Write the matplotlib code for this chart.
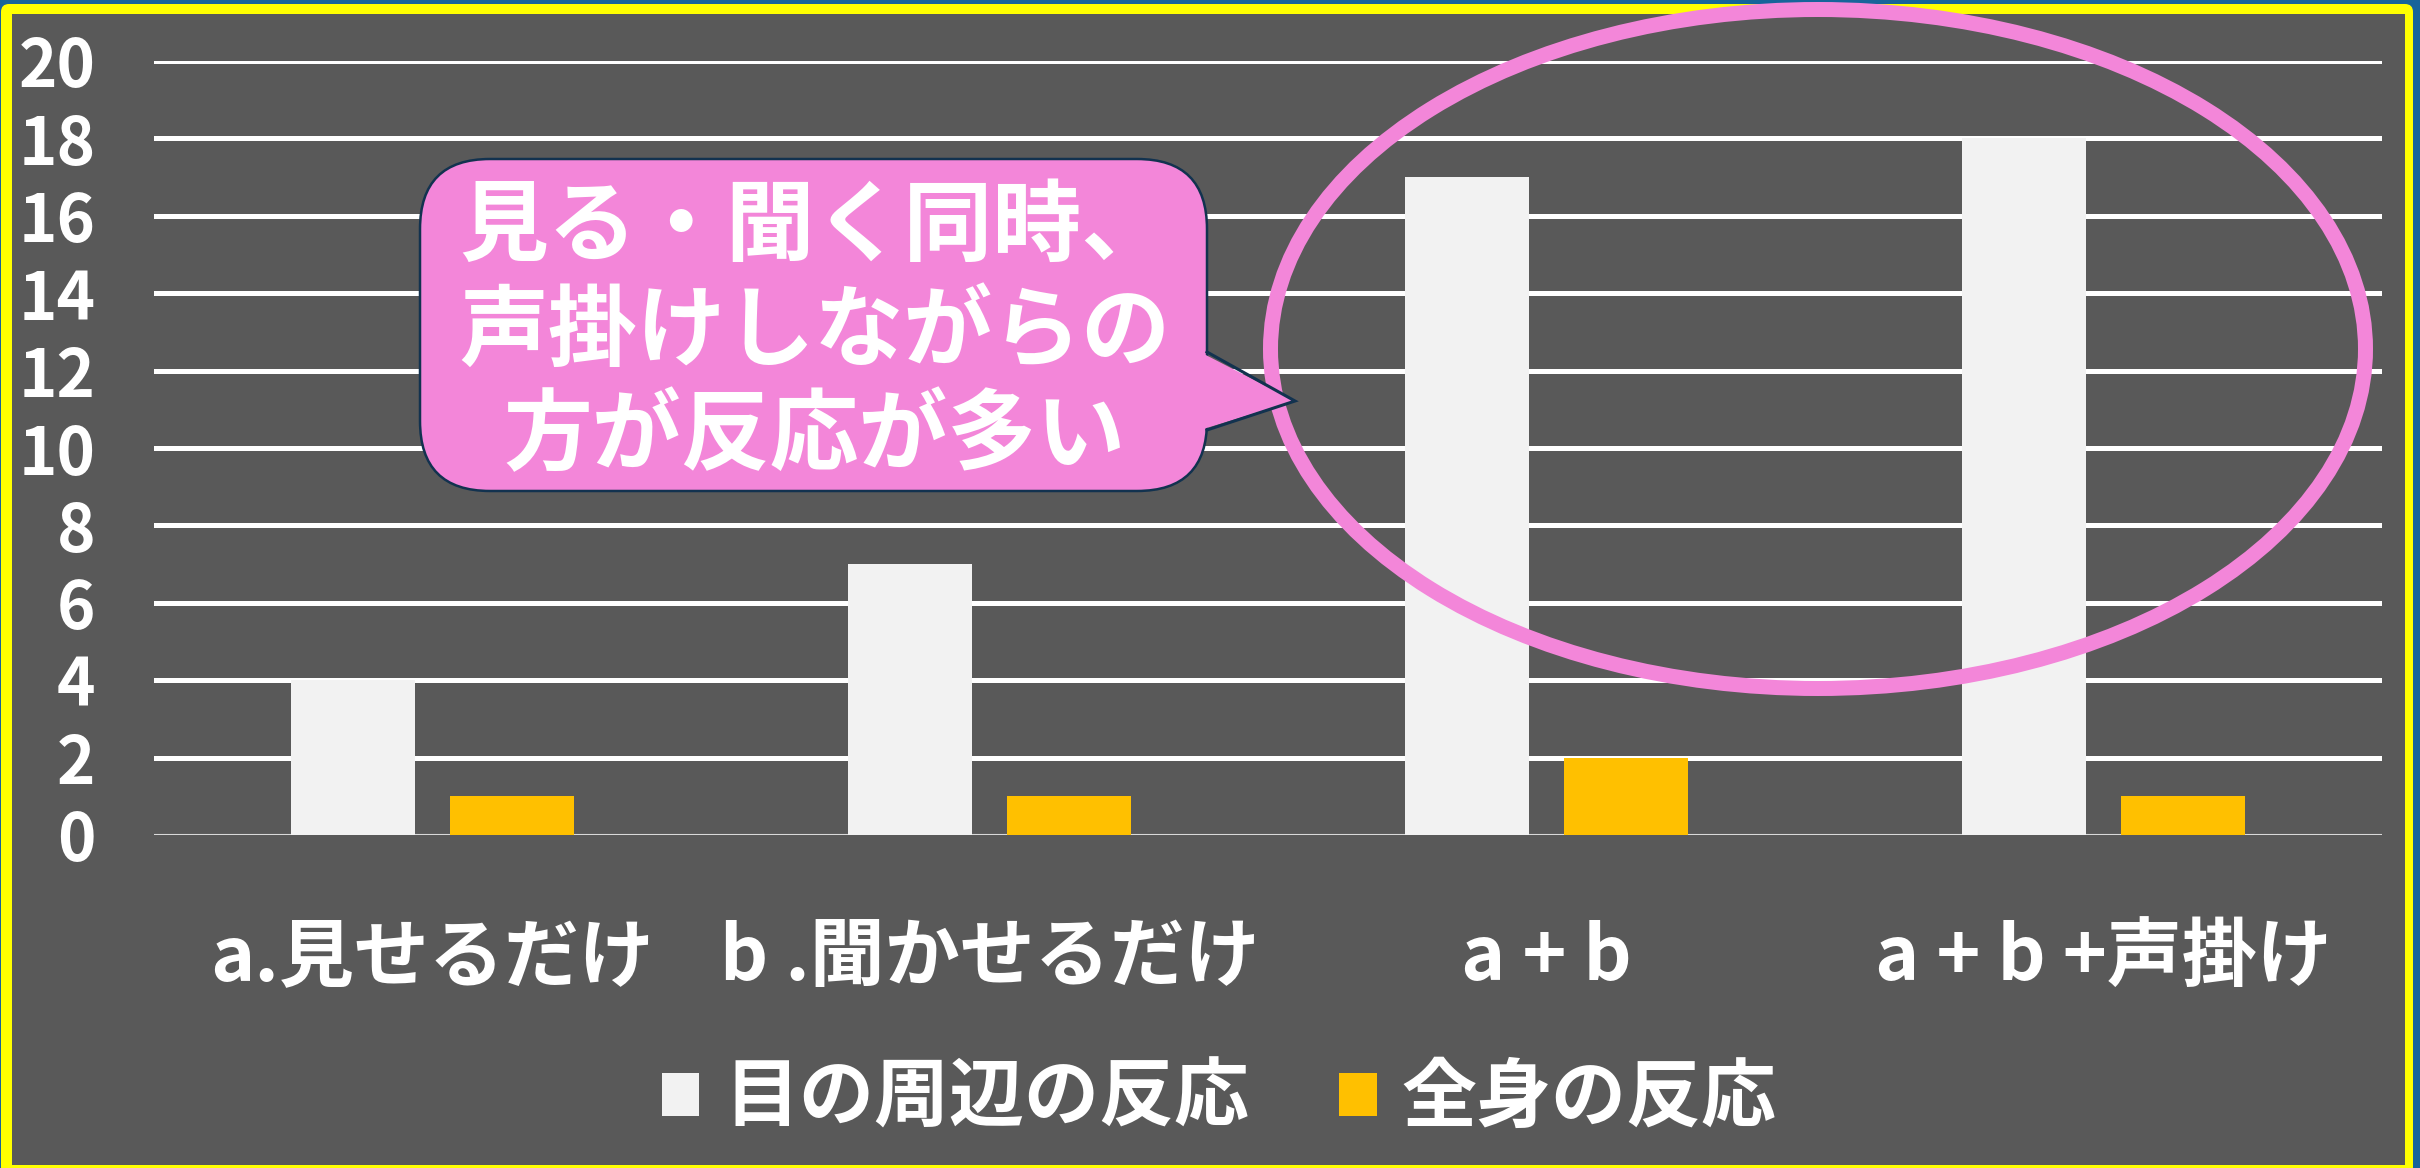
import matplotlib.pyplot as plt
import numpy as np
from matplotlib.patches import FancyBboxPatch, Ellipse, Polygon, Rectangle

plt.rcParams['font.family'] = ['Noto Sans CJK JP', 'DejaVu Sans']

categories = ['a.見せるだけ', 'b .聞かせるだけ', 'a + b', 'a + b +声掛け']
eye = [4, 7, 17, 18]
body = [1, 1, 2, 1]
series_names = ['目の周辺の反応', '全身の反応']
callout_lines = ['見る・聞く同時、', '声掛けしながらの', '方が反応が多い']

W, H = 2420, 1168
PINK = '#F386D9'
fig = plt.figure(figsize=(W / 100, H / 100), dpi=100, facecolor='#17649A')

# background frame (pixel coords, y downwards)
bg = fig.add_axes([0, 0, 1, 1])
bg.set_xlim(0, W)
bg.set_ylim(H, 0)
bg.axis('off')
bg.add_patch(FancyBboxPatch((1, 4), 2412, 1200, boxstyle='round,pad=0,rounding_size=8',
                            fc='#FFFF00', ec='none'))
bg.add_patch(Rectangle((12, 14), 2393, 1151, fc='#595959', ec='none'))

# chart
ax = fig.add_axes([154 / W, (H - 835) / H, 2228 / W, 774 / H])
ax.set_facecolor('none')
x = np.arange(len(categories))
ax.bar(x - 0.143, eye, 0.222, color='#F2F2F2', label=series_names[0], zorder=2)
ax.bar(x + 0.143, body, 0.222, color='#FFC000', label=series_names[1], zorder=2)
ax.set_xlim(-0.5, len(categories) - 0.5)
ax.set_ylim(0, 20)
ax.set_yticks(range(0, 21, 2))
ax.set_xticks(x)
ax.set_xticklabels(categories)
ax.set_axisbelow(True)
ax.yaxis.grid(True, color='white', lw=3.6)
ax.get_ygridlines()[0].set_visible(False)
ax.axhline(0, color='#D9D9D9', lw=1.5, zorder=1)
for s in ax.spines.values():
    s.set_visible(False)
ax.tick_params(axis='y', length=0, pad=42, labelsize=47, labelcolor='white')
ax.tick_params(axis='x', length=0, pad=61, labelsize=54, labelcolor='white')
for lbl in ax.get_xticklabels() + ax.get_yticklabels():
    lbl.set_fontweight('bold')

leg = fig.legend(loc='center', bbox_to_anchor=(1219 / W, 69 / H), ncol=2, frameon=False,
                 prop={'size': 54, 'weight': 'bold'}, labelcolor='white',
                 handlelength=0.5, handleheight=0.5, handletextpad=0.33, columnspacing=1.2)

# annotations on top
fg = fig.add_axes([0, 0, 1, 1], zorder=5)
fg.set_xlim(0, W)
fg.set_ylim(H, 0)
fg.axis('off')
fg.patch.set_alpha(0)
fg.add_patch(Ellipse((1818, 349), 1095, 679, fill=False, ec=PINK, lw=10.8))
fg.add_patch(FancyBboxPatch((420, 159), 787, 332, boxstyle='round,pad=0,rounding_size=70',
                            fc=PINK, ec='#12324F', lw=1.8))
fg.add_patch(Polygon([(1200, 352), (1295, 401), (1200, 430)], fc=PINK, ec='none'))
fg.plot([1207, 1295, 1207], [352, 401, 430], color='#12324F', lw=2.2, solid_joinstyle='miter')
for i, line in enumerate(callout_lines):
    fg.text(815, 228 + i * 104.5, line, ha='center', va='center', color='white',
            fontsize=64, fontweight='bold')

fig.savefig('out.png', dpi=100, facecolor=fig.get_facecolor())
